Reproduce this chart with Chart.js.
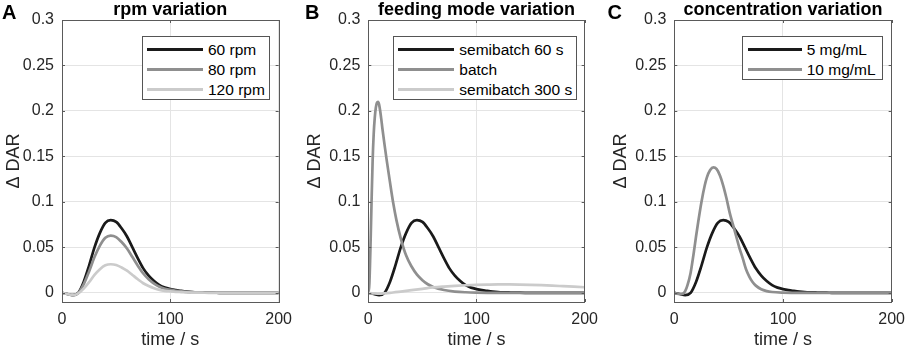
<!DOCTYPE html>
<html>
<head>
<meta charset="utf-8">
<script src="https://cdn.jsdelivr.net/npm/chart.js@4/dist/chart.umd.min.js"></script>
<style>
  html, body { margin: 0; padding: 0; background: #fff; }
  body { width: 913px; height: 350px; position: relative; overflow: hidden;
         font-family: "Liberation Sans", Arial, Helvetica, sans-serif; }
  canvas { position: absolute; top: 0; }
  .letter { position: absolute; font-weight: bold; font-size: 20px; line-height: 20px; color: #000; }
  .legend { position: absolute; background: #fff; border: 1px solid #555; box-sizing: border-box; }
  .lgline { position: absolute; height: 3px; }
  .lgtext { position: absolute; font-size: 15.5px; line-height: 15.5px; color: #000; white-space: nowrap; }
</style>
</head>
<body>
<script>
// ---------------- data ----------------
const xTicks = [0, 100, 200];
const yTicks = [0, 0.05, 0.1, 0.15, 0.2, 0.25, 0.3];
const yTickLabels = ['0', '0.05', '0.1', '0.15', '0.2', '0.25', '0.3'];

const panelTitles = ['rpm variation', 'feeding mode variation', 'concentration variation'];
const panelLetters = ['A', 'B', 'C'];

// common time grid (s)
const tGrid = [0,5,10,15,20,25,30,35,40,45,50,55,60,65,70,75,80,85,90,95,100,
               105,110,115,120,125,130,135,140,145,150,155,160,165,170,175,180,185,190,195,200];

// Panel A: rpm variation
const labelsA = ['60 rpm', '80 rpm', '120 rpm'];
const rpm60 = [0,-0.0012,-0.0025,0.0,0.012,0.030,0.050,0.066,0.077,0.080,0.078,0.071,0.062,0.050,0.038,0.027,0.019,0.013,0.0085,0.0058,0.0042,
               0.003,0.0022,0.0015,0.001,0.0007,0.0005,0.0003,0.0002,0.0001,0,0,0,0,0,0,0,0,0,0,0];
const rpm80 = [0,-0.0012,-0.0025,-0.0002,0.0094,0.0236,0.0394,0.052,0.0606,0.063,0.0614,0.0559,0.0488,0.0394,0.0299,0.0213,0.015,0.0102,0.0067,0.0046,0.0033,
               0.0024,0.0017,0.0012,0.0008,0.0006,0.0004,0.0002,0.0002,0.0001,0,0,0,0,0,0,0,0,0,0,0];
const rpm120 = [0,-0.0012,-0.0025,-0.0006,0.0047,0.0118,0.0197,0.026,0.0303,0.0315,0.0307,0.028,0.0244,0.0197,0.015,0.0106,0.0075,0.0051,0.0033,0.0023,0.0017,
                0.0012,0.0009,0.0006,0.0004,0.0003,0.0002,0.0001,0.0001,0,0,0,0,0,0,0,0,0,0,0,0];

// Panel B: feeding mode variation
const labelsB = ['semibatch 60 s', 'batch', 'semibatch 300 s'];
const semibatch60 = [0,-0.0012,-0.0025,0.0,0.012,0.030,0.050,0.066,0.077,0.080,0.078,0.071,0.062,0.050,0.038,0.027,0.019,0.013,0.0085,0.0058,0.0042,
                     0.003,0.0022,0.0015,0.001,0.0007,0.0005,0.0003,0.0002,0.0001,0,0,0,0,0,0,0,0,0,0,0];
const batchTime = [0,1,2,3,4,5,6,7,8,9,10,11,12,13,15,17,20,23,26,30,35,40,45,50,55,60,70,80,90,100,120,140,200];
const batch     = [0,0.01,0.05,0.10,0.145,0.175,0.193,0.204,0.209,0.210,0.207,0.200,0.191,0.181,0.163,0.146,0.122,0.099,0.080,0.060,
                   0.041,0.029,0.020,0.014,0.0095,0.0066,0.0032,0.0015,0.0007,0.0003,0.0001,0,0];
const semi300Time = [0,5,10,15,20,25,30,40,50,60,70,80,90,100,110,120,130,140,150,160,170,180,190,200];
const semibatch300 = [0,-0.0005,-0.0008,-0.0005,0.0,0.0008,0.0015,0.0030,0.0045,0.0060,0.0070,0.0078,0.0084,0.0088,0.0091,0.0093,0.0093,
                      0.0092,0.0089,0.0085,0.0080,0.0074,0.0068,0.0062];

// Panel C: concentration variation
const labelsC = ['5 mg/mL', '10 mg/mL'];
const conc5 = [0,-0.0012,-0.0025,0.0,0.012,0.030,0.050,0.066,0.077,0.080,0.078,0.071,0.062,0.050,0.038,0.027,0.019,0.013,0.0085,0.0058,0.0042,
               0.003,0.0022,0.0015,0.001,0.0007,0.0005,0.0003,0.0002,0.0001,0,0,0,0,0,0,0,0,0,0,0];
const conc10Time = [0,5,8,10,12,15,18,20,22,25,28,30,33,36,39,42,45,48,51,54,57,60,63,66,69,72,75,80,85,90,100,110,120,160,200];
const conc10 = [0,-0.0012,-0.0008,0.002,0.008,0.022,0.045,0.062,0.078,0.100,0.118,0.127,0.135,0.138,0.136,0.129,0.118,0.104,0.088,0.075,
                0.062,0.049,0.038,0.026,0.018,0.012,0.008,0.004,0.002,0.001,0.0003,0.0001,0,0,0];

// ---------------- styling ----------------
const BLACK = '#1a1a1a', MID = '#8f8f8f', LIGHT = '#cbcbcb';
const FONT = '"Liberation Sans", Arial, Helvetica, sans-serif';

const panels = [
  { canvasLeft: 0,   width: 300, yW: 62,   padR: 15,   yTitlePad: 5, letterLeft: 2,
    series: [[tGrid, rpm60, labelsA[0], BLACK], [tGrid, rpm80, labelsA[1], MID], [tGrid, rpm120, labelsA[2], LIGHT]],
    legend: { left: 142, top: 36, width: 128, height: 64, x1: 147, x2: 203, tx: 208 } },
  { canvasLeft: 306, width: 300, yW: 62.3, padR: 14.3, yTitlePad: 0, letterLeft: 305,
    series: [[tGrid, semibatch60, labelsB[0], BLACK], [batchTime, batch, labelsB[1], MID], [semi300Time, semibatch300, labelsB[2], LIGHT]],
    legend: { left: 393, top: 36, width: 184, height: 64, x1: 398, x2: 454, tx: 459.3 } },
  { canvasLeft: 612, width: 301, yW: 62.3, padR: 16, yTitlePad: 0, letterLeft: 607.5,
    series: [[tGrid, conc5, labelsC[0], BLACK], [conc10Time, conc10, labelsC[1], MID]],
    legend: { left: 742, top: 36, width: 141, height: 44, x1: 748.3, x2: 801.7, tx: 806.7 } }
];

const framePlugin = {
  id: 'frameAndTitle',
  afterDatasetsDraw(chart, args, opts) {
    const { ctx, chartArea: { left, top, right, bottom }, scales: { x, y } } = chart;
    ctx.save();
    ctx.strokeStyle = '#5a5a5a';
    ctx.lineWidth = 1;
    ctx.beginPath();
    y.ticks.forEach(t => {
      const py = Math.round(y.getPixelForValue(t.value)) + 0.5;
      ctx.moveTo(left, py); ctx.lineTo(left + 3, py);
      ctx.moveTo(right, py); ctx.lineTo(right - 3, py);
    });
    x.ticks.forEach(t => {
      const px = Math.round(x.getPixelForValue(t.value)) + 0.5;
      ctx.moveTo(px, bottom); ctx.lineTo(px, bottom - 3);
      ctx.moveTo(px, top); ctx.lineTo(px, top + 3);
    });
    ctx.stroke();
    ctx.strokeRect(Math.round(left) + 0.5, Math.round(top) + 0.5, Math.round(right - left), Math.round(bottom - top));
    ctx.fillStyle = '#000';
    ctx.font = 'bold 18px ' + FONT;
    ctx.textAlign = 'center';
    ctx.textBaseline = 'alphabetic';
    ctx.fillText(opts.text, (left + right) / 2, 15);
    ctx.restore();
  }
};

panels.forEach((p, i) => {
  const cv = document.createElement('canvas');
  cv.width = p.width; cv.height = 350;
  cv.style.left = p.canvasLeft + 'px';
  cv.style.width = p.width + 'px'; cv.style.height = '350px';
  document.body.appendChild(cv);

  const n = p.series.length;
  const datasets = p.series.map((s, k) => ({
    label: s[2],
    data: s[0].map((t, j) => ({ x: t, y: s[1][j] })),
    borderColor: s[3],
    borderWidth: 2.7,
    pointRadius: 0,
    fill: false,
    cubicInterpolationMode: 'monotone',
    order: n - k
  }));

  new Chart(cv, {
    type: 'line',
    data: { datasets },
    plugins: [framePlugin],
    options: {
      responsive: false,
      devicePixelRatio: 1,
      animation: false,
      events: [],
      layout: { padding: { top: 20, right: p.padR, left: 0, bottom: 0 } },
      plugins: {
        legend: { display: false },
        tooltip: { enabled: false },
        title: { display: false },
        frameAndTitle: { text: panelTitles[i] }
      },
      scales: {
        x: {
          type: 'linear', min: 0, max: 200,
          afterBuildTicks: (s) => { s.ticks = xTicks.map(v => ({ value: v })); },
          afterFit: (s) => { s.height = 48; },
          ticks: { autoSkip: false, maxRotation: 0, padding: 8, color: '#262626',
                   font: { family: FONT, size: 16 },
                   callback: (v) => String(v) },
          grid: { color: '#e4e4e4', lineWidth: 1, drawTicks: false },
          border: { display: false },
          title: { display: true, text: 'time / s', color: '#262626',
                   font: { family: FONT, size: 18, lineHeight: 1 }, padding: { top: 0, bottom: 0.5 } }
        },
        y: {
          type: 'linear', min: -0.01, max: 0.3,
          afterBuildTicks: (s) => { s.ticks = yTicks.map(v => ({ value: v })); },
          afterFit: (s) => { s.width = p.yW; },
          ticks: { autoSkip: false, padding: 8, color: '#262626',
                   font: { family: FONT, size: 16 },
                   callback: (v, idx) => yTickLabels[idx] },
          grid: { color: '#e4e4e4', lineWidth: 1, drawTicks: false },
          border: { display: false },
          title: { display: true, text: '\u0394 DAR', color: '#262626',
                   font: { family: FONT, size: 18, lineHeight: 1 }, padding: { top: p.yTitlePad, bottom: 0 } }
        }
      }
    }
  });

  // panel letter
  const L = document.createElement('div');
  L.className = 'letter';
  L.textContent = panelLetters[i];
  L.style.left = p.letterLeft + 'px';
  L.style.top = '1.6px';
  document.body.appendChild(L);

  // legend box
  const lg = p.legend;
  const box = document.createElement('div');
  box.className = 'legend';
  box.style.left = lg.left + 'px'; box.style.top = lg.top + 'px';
  box.style.width = lg.width + 'px'; box.style.height = lg.height + 'px';
  document.body.appendChild(box);
  p.series.forEach((s, k) => {
    const cy = 49.3 + k * 20;
    const ln = document.createElement('div');
    ln.className = 'lgline';
    ln.style.left = lg.x1 + 'px'; ln.style.width = (lg.x2 - lg.x1) + 'px';
    ln.style.top = (cy - 1.5) + 'px'; ln.style.background = s[3];
    document.body.appendChild(ln);
    const tx = document.createElement('div');
    tx.className = 'lgtext';
    tx.textContent = s[2];
    tx.style.left = lg.tx + 'px';
    tx.style.top = (cy + 0.7 - 7.75) + 'px';
    document.body.appendChild(tx);
  });
});
</script>
</body>
</html>
